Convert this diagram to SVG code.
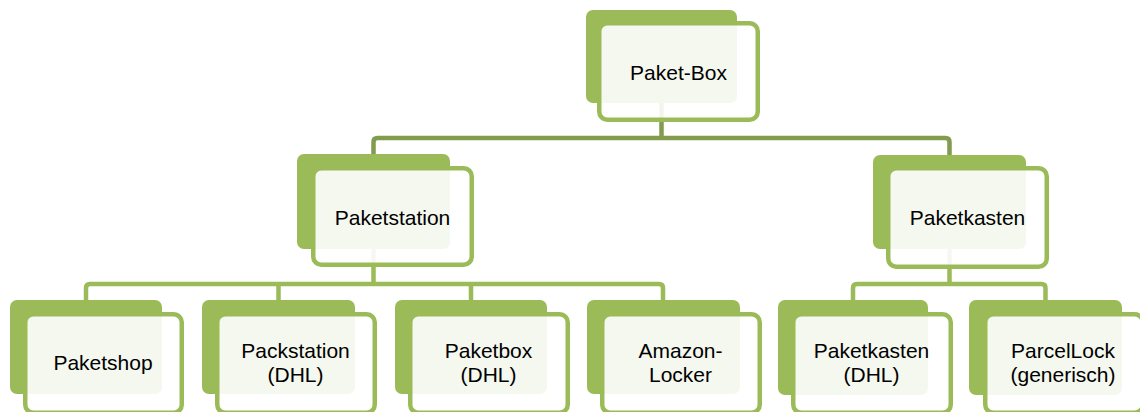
<svg xmlns="http://www.w3.org/2000/svg" width="1140" height="412" viewBox="0 0 1140 412">
<style>
.bk{fill:#9BBB59}
.fr{fill:#fff;fill-opacity:0.9;stroke:#9BBB59;stroke-width:4.5}
.t{font-family:"Liberation Sans",Arial,sans-serif;font-size:21px;fill:#000;text-anchor:middle}
.c1{fill:none;stroke:#829B4C;stroke-width:4.5}
.c2{fill:none;stroke:#9BBB59;stroke-width:4.5}
</style>
<rect width="1140" height="412" fill="#fff"/>
<g id="connectors">
<path class="c1" d="M661.5 100 V138 M373.5 154 V142 Q373.5 138 377.5 138 H945.5 Q949.5 138 949.5 142 V155"/>
<path class="c2" d="M373.5 249 V284 M86 300 V288 Q86 284 90 284 H659 Q663 284 663 288 V300 M278.5 284 V300 M471 284 V300"/>
<path class="c2" d="M949.5 249 V284 M853 300 V288 Q853 284 857 284 H1041.5 Q1045.5 284 1045.5 288 V300"/>
</g>
<g id="n-paketbox">
<rect class="bk" x="586" y="10" width="151" height="93" rx="7"/>
<rect class="fr" x="599.25" y="23.25" width="158.5" height="96.5" rx="8"/>
<text class="t" x="678.5" y="79.5">Paket-Box</text>
</g>
<g id="n-paketstation">
<rect class="bk" x="297" y="154" width="153" height="95" rx="7"/>
<rect class="fr" x="313.25" y="168.25" width="158.5" height="96.5" rx="8"/>
<text class="t" x="392.5" y="224.5">Paketstation</text>
</g>
<g id="n-paketkasten">
<rect class="bk" x="873" y="155" width="153" height="94" rx="7"/>
<rect class="fr" x="888.25" y="168.25" width="158.5" height="98.5" rx="8"/>
<text class="t" x="967.5" y="224.5">Paketkasten</text>
</g>
<g id="n-paketshop">
<rect class="bk" x="10" y="300" width="152" height="94" rx="7"/>
<rect class="fr" x="25.25" y="314.25" width="156.5" height="98.5" rx="8"/>
<text class="t" x="103" y="370">Paketshop</text>
</g>
<g id="n-packstation">
<rect class="bk" x="202" y="300" width="153" height="94" rx="7"/>
<rect class="fr" x="217.25" y="314.25" width="157.5" height="98.5" rx="8"/>
<text class="t" x="295.5" y="358">Packstation</text>
<text class="t" x="295.5" y="382">(DHL)</text>
</g>
<g id="n-paketbox-dhl">
<rect class="bk" x="395" y="300" width="152" height="94" rx="7"/>
<rect class="fr" x="410.25" y="314.25" width="157.5" height="98.5" rx="8"/>
<text class="t" x="488.5" y="358">Paketbox</text>
<text class="t" x="488.5" y="382">(DHL)</text>
</g>
<g id="n-amazon">
<rect class="bk" x="587" y="300" width="153" height="94" rx="7"/>
<rect class="fr" x="602.25" y="314.25" width="157.5" height="98.5" rx="8"/>
<text class="t" x="680.5" y="358">Amazon-</text>
<text class="t" x="680.5" y="382">Locker</text>
</g>
<g id="n-paketkasten-dhl">
<rect class="bk" x="778" y="300" width="150" height="95" rx="7"/>
<rect class="fr" x="793.25" y="314.25" width="157.5" height="98.5" rx="8"/>
<text class="t" x="871.5" y="358">Paketkasten</text>
<text class="t" x="871.5" y="382">(DHL)</text>
</g>
<g id="n-parcellock">
<rect class="bk" x="969" y="300" width="153" height="95" rx="7"/>
<rect class="fr" x="985.25" y="314.25" width="157.5" height="98.5" rx="8"/>
<text class="t" x="1063" y="358">ParcelLock</text>
<text class="t" x="1063" y="382">(generisch)</text>
</g>
</svg>
